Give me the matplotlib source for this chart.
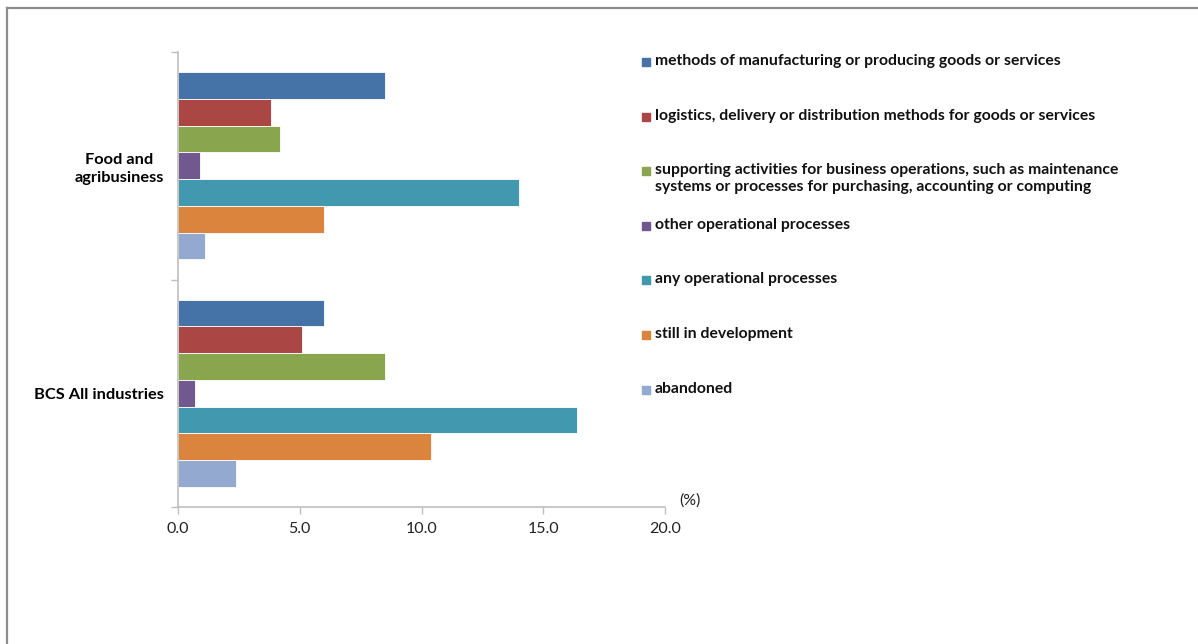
import matplotlib
matplotlib.use("Agg")
import matplotlib.pyplot as plt
from matplotlib.lines import Line2D
from matplotlib.patches import Rectangle
import numpy as np

plt.rcParams["font.family"] = ["Lato", "DejaVu Sans"]

categories = ["BCS All industries", "Food and\nagribusiness"]
series = [
    "methods of manufacturing or producing goods or services",
    "logistics, delivery or distribution methods for goods or services",
    "supporting activities for business operations, such as maintenance\n"
    "systems or processes for purchasing, accounting or computing",
    "other operational processes",
    "any operational processes",
    "still in development",
    "abandoned",
]
# values per series: [BCS All industries, Food and agribusiness]
values = [
    [6.0, 8.5],
    [5.1, 3.8],
    [8.5, 4.2],
    [0.7, 0.9],
    [16.4, 14.0],
    [10.4, 6.0],
    [2.4, 1.1],
]
colors = ["#4572A7", "#AA4643", "#89A54E", "#71588F", "#4198AF", "#DB843D", "#93A9CF"]

W, H = 1198, 644
fig = plt.figure(figsize=(W / 100, H / 100), dpi=100)
ax = fig.add_axes([178 / W, 1 - 507 / H, (665 - 178) / W, (507 - 52) / H])

bar_h = 0.1174
n = len(series)
y = np.arange(len(categories))
for j, (name, vals, c) in enumerate(zip(series, values, colors)):
    offset = ((n - 1) / 2 - j) * bar_h
    ax.barh(y + offset, vals, height=bar_h, color=c, edgecolor="white", linewidth=0.6)

ax.set_xlim(0, 20)
ax.set_ylim(-0.5, 1.5)
ax.set_xticks(np.arange(0, 20.1, 5))
ax.set_xticklabels([f"{v:.1f}" for v in np.arange(0, 20.1, 5)], fontsize=11.5, color="#222222")
ax.set_yticks([-0.5, 0.5, 1.5])
ax.set_yticklabels([])
ax.set_yticks(y, minor=True)
ax.set_yticklabels(categories, minor=True, fontsize=11.8, fontweight="bold",
                   ha="right", multialignment="center", linespacing=1.3)
ax.tick_params(axis="y", which="minor", length=0, pad=10)
ax.tick_params(axis="both", which="major", length=5, color="#BFBFBF", width=1)
ax.tick_params(axis="x", pad=6)
for side in ["top", "right"]:
    ax.spines[side].set_visible(False)
for side in ["left", "bottom"]:
    ax.spines[side].set_color("#BFBFBF")
    ax.spines[side].set_linewidth(1.2)

ax.text(1.03, -0.002, "(%)", transform=ax.transAxes, fontsize=11.5, ha="left", va="bottom",
        color="#222222")

# legend drawn by hand, one row per series
leg_y0, leg_dy = 62, 54.6
for j, (name, c) in enumerate(zip(series, colors)):
    py = leg_y0 + j * leg_dy
    fig.patches.append(Rectangle((642 / W, 1 - (py + 4) / H), 8 / W, 8 / H,
                                 transform=fig.transFigure, color=c))
    fig.text(655 / W, 1 - (py - 8) / H, name, fontsize=11.3, fontweight="bold",
             ha="left", va="top", linespacing=1.3, color="#111111")

# outer frame (left and top edges)
fig.lines.append(Line2D([6.5 / W, 6.5 / W], [0, 1 - 8 / H], transform=fig.transFigure,
                        color="#8C8C8C", linewidth=1.6))
fig.lines.append(Line2D([6.5 / W, 1], [1 - 8 / H, 1 - 8 / H], transform=fig.transFigure,
                        color="#8C8C8C", linewidth=1.6))

fig.savefig("out.png", dpi=100)
